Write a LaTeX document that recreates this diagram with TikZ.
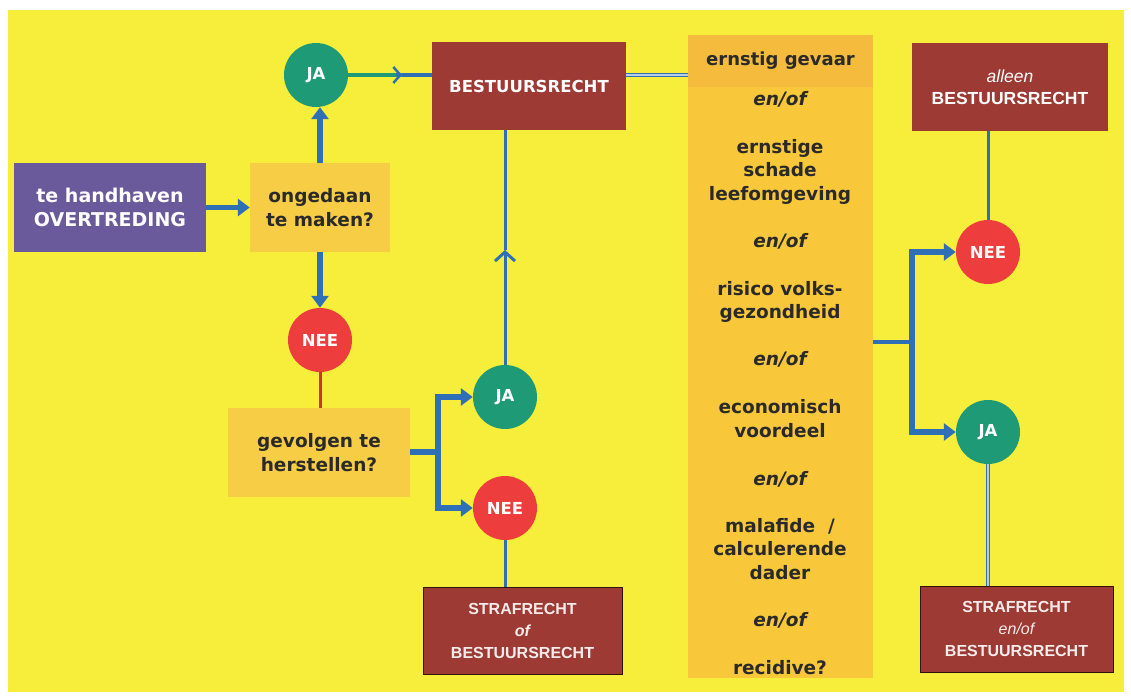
\documentclass[tikz,border=0pt]{standalone}
\usepackage{fontspec}
\setmainfont{DejaVu Sans}
\newfontfamily\arl{Liberation Sans}
\usetikzlibrary{arrows.meta}
\definecolor{bgy}{HTML}{F6EE3A}
\definecolor{boxy}{HTML}{F7CD45}
\definecolor{colY}{HTML}{F8C83A}
\definecolor{colT}{HTML}{F4BB3C}
\definecolor{purp}{HTML}{6A5A9C}
\definecolor{dred}{HTML}{9C3A33}
\definecolor{jag}{HTML}{1F9A76}
\definecolor{neer}{HTML}{EE3D3D}
\definecolor{arb}{HTML}{2F6FB6}
\definecolor{txt}{HTML}{2A2A2A}
\definecolor{wtx}{HTML}{F6ECEC}
\newcommand{\eo}{\itshape en/of}
\begin{document}
\begin{tikzpicture}[x=1pt,y=-1pt,
  box/.style={rectangle, inner sep=0pt, align=center, font=\bfseries\fontsize{18.5}{23.5}\selectfont},
  ybox/.style={box, fill=boxy, text=txt},
  pbox/.style={box, fill=purp, text=white, font=\bfseries\fontsize{19}{24}\selectfont},
  rbox/.style={box, fill=dred, text=white, font=\bfseries\fontsize{16.5}{22}\selectfont},
  sbox/.style={box, fill=dred, text=wtx, draw=black!70!dred, line width=1pt, font=\arl\bfseries\fontsize{16}{22}\selectfont},
  cir/.style={circle, minimum size=64pt, inner sep=0pt, text=white, font=\bfseries\fontsize{16.5}{18}\selectfont},
  ja/.style={cir, fill=jag},
  nee/.style={cir, fill=neer},
  mtext/.style={anchor=base, inner sep=0pt, text=txt, font=\bfseries\fontsize{18.5}{23.5}\selectfont},
  thk/.style={draw=arb, line width=5.5pt, -{Triangle[length=12pt,width=17pt]}},
  thkline/.style={draw=arb, line width=5.5pt},
  thin/.style={draw=arb, line width=3pt},
  dbl/.style={draw=arb, line width=1pt, double=arb!35!white, double distance=1.8pt}
]
\useasboundingbox (0,0) rectangle (1131,698);
\fill[white] (0,0) rectangle (1131,698);
\fill[bgy] (8,10) rectangle (1124,692);

% left part
\node[pbox, minimum width=192pt, minimum height=89pt] (ovt) at (110,207.5) {te handhaven\\OVERTREDING};
\node[ybox, minimum width=140pt, minimum height=89pt] (ong) at (320,207.5) {ongedaan\\te maken?};
\node[ja] (ja1) at (316,75) {JA};
\node[nee] (nee1) at (320,340) {NEE};
\node[ybox, minimum width=182pt, minimum height=89pt] (gev) at (319,452.5) {gevolgen te\\herstellen?};
\node[rbox, minimum width=194pt, minimum height=88pt] (br) at (529,86) {BESTUURSRECHT};
\node[ja] (ja2) at (505,397) {JA};
\node[nee] (nee2) at (505,508) {NEE};
\node[sbox, minimum width=199pt, minimum height=87pt] (sr1) at (522.5,630.5) {STRAFRECHT\\{\itshape of}\\BESTUURSRECHT};

% middle column
\node[rectangle, inner sep=0pt, fill=colY, minimum width=185pt, minimum height=591pt] (mid) at (780.5,382.5) {};
\node[rectangle, inner sep=0pt, fill=colT, minimum width=185pt, minimum height=52pt, text=txt, font=\bfseries\fontsize{18}{23.5}\selectfont] (midtop) at (780.5,61) {ernstig gevaar};
\foreach \t/\yy [count=\i] in {\eo/106, ernstige/153, schade/176, leefomgeving/200, \eo/247,
  risico volks-/295, gezondheid/318, \eo/365, economisch/413, voordeel/437, \eo/485,
  {malafide\ \ /}/532, calculerende/555, dader/579, \eo/626, recidive?/674}
  \node[mtext] (m\i) at (780,\yy) {\t};

% right part
\node[rbox, minimum width=196pt, minimum height=88pt, font=\arl\bfseries\fontsize{17.5}{22}\selectfont] (al) at (1010,87) {{\itshape\mdseries alleen}\\BESTUURSRECHT};
\node[nee] (nee3) at (988,252) {NEE};
\node[ja] (ja3) at (988,432) {JA};
\node[sbox, minimum width=193pt, minimum height=86pt] (sr2) at (1016.5,629) {STRAFRECHT\\{\itshape\mdseries en/of}\\BESTUURSRECHT};

% connectors left
\draw[thk] (ovt.east) -- (ong.west);
\draw[thk] (ong.north) -- (ong.north |- ja1.south);
\draw[thk] (ong.south) -- (ong.south |- nee1.north);
\draw[draw=neer!85!black, line width=3pt] (nee1.south) -- (nee1.south |- gev.north);
\coordinate (b1) at (438,452);
\draw[thkline] (gev.east |- b1) -- (b1);
\draw[thk] (b1) |- (ja2.west);
\draw[thk] (b1) |- (nee2.west);
\coordinate (a1) at (402,75);
\draw[draw=jag, line width=4pt] (ja1.east) -- (a1);
\draw[draw=arb, line width=3pt, -{Straight Barb[length=7pt,width=16pt,line width=2.5pt]}] (a1) ++(-6,0) -- (a1);
\draw[draw=arb, line width=4pt] (a1) -- (br.west |- a1);
\coordinate (a2) at (505,250);
\draw[thin, -{Straight Barb[length=9pt,width=20pt,line width=3pt]}] (ja2.north) -- (a2);
\draw[thin] (a2) -- (a2 |- br.south);
\draw[thin] (nee2.south) -- (nee2.south |- sr1.north);

% connectors middle/right
\draw[dbl] (br.east |- 0,75) -- (mid.west |- 0,75);
\coordinate (b2) at (912,342);
\draw[draw=arb, line width=4pt] (mid.east |- b2) -- (b2);
\draw[thk] (b2) |- (nee3.west);
\draw[thk] (b2) |- (ja3.west);
\draw[thin] (al.south -| nee3.north) -- (nee3.north);
\draw[dbl] (ja3.south) -- (ja3.south |- sr2.north);
\end{tikzpicture}
\end{document}
